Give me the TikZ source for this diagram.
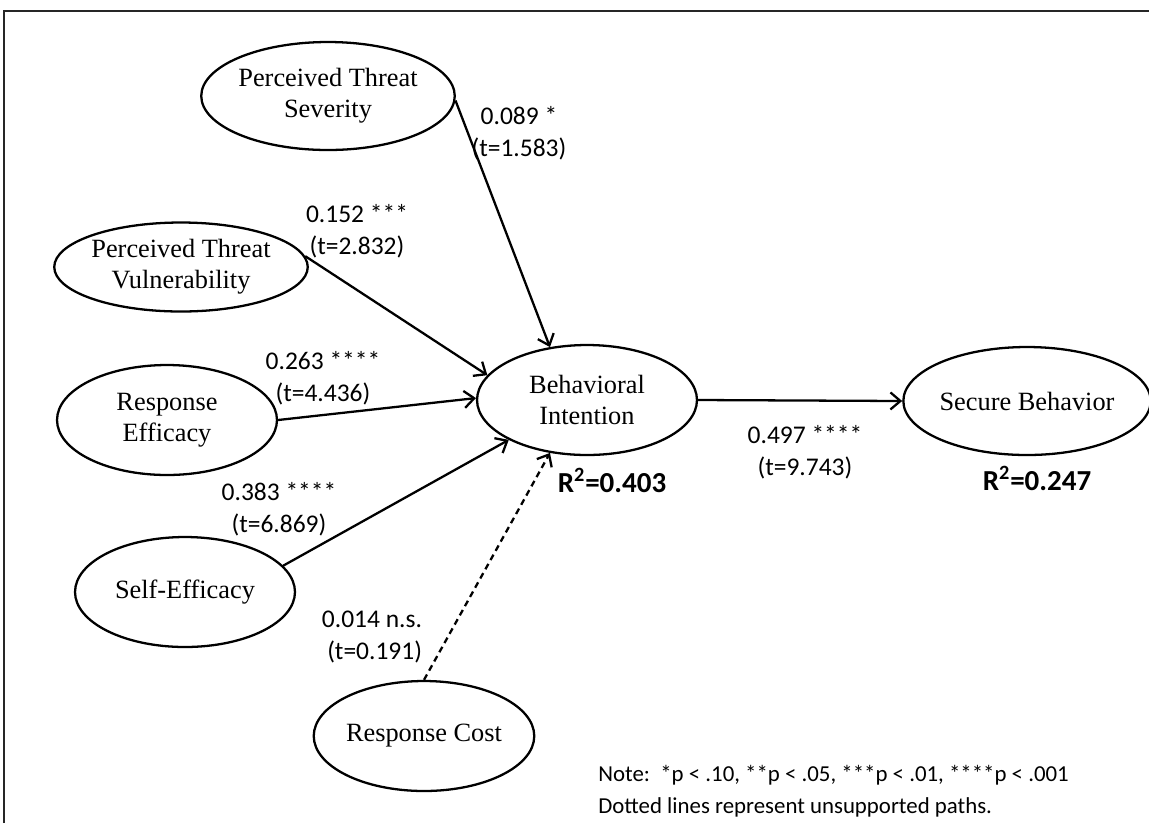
\documentclass[tikz,border=0pt]{standalone}
\usepackage{fontspec}
\setmainfont{Liberation Serif}
\newfontfamily\calibri{Carlito}
\usetikzlibrary{shapes.geometric,arrows.meta}

\begin{document}
\begin{tikzpicture}[
        x=0.02cm, y=-0.02cm,
        construct/.style={ellipse, draw, line width=1.3pt, inner sep=0pt, minimum width=4.4cm, minimum height=2.2cm, align=center, font=\fontsize{15}{17.5}\selectfont},
        coef/.style={align=center, inner sep=0pt, font=\calibri\fontsize{14.5}{18}\selectfont},
        rsq/.style={inner sep=0pt, font=\calibri\bfseries\fontsize{16.5}{20}\selectfont},
        arrow/.style={-{Straight Barb[length=2mm,width=3.4mm,line width=1.3pt]}, line width=1.3pt},
        dottedarrow/.style={arrow, dash pattern=on 3.5pt off 2.5pt}
    ]
        \useasboundingbox (0,0) rectangle (1149,823);
        % frame
        \draw[line width=1.2pt, black!85] (4,823) -- (4,11) -- (1149,11);

        \node[construct, minimum width=4.38cm, minimum height=2.16cm] (sev) at (328,96) {Perceived Threat\\Severity};
        \node[construct, minimum width=4.42cm, minimum height=1.78cm] (vul) at (181,267) {Perceived Threat\\Vulnerability};
        \node[construct] (reff) at (167,420) {Response\\Efficacy};
        \node[construct] (seff) at (185,592) {Self-Efficacy};
        \node[construct, minimum width=4.32cm] (cost) at (424,736) {Response Cost};
        \node[construct] (intent) at (587,400) {Behavioral\\Intention};
        \node[construct, minimum width=4.34cm, minimum height=2.16cm] (secure) at (1027,401) {Secure Behavior};

        \draw[arrow] (sev.-2) -- (intent.125);
        \draw[arrow] (vul.5) -- (intent.166);
        \draw[arrow] (reff.east) -- (intent.179);
        \draw[arrow] (seff.15) -- (intent.207);
        \draw[dottedarrow] (cost.north) -- (intent.235);
        \draw[arrow] (intent.east) -- (secure.west);

        \node[coef] (csev) at (519,133) {0.089 *\\(t=1.583)};
        \node[coef] (cvul) at (357,231) {0.152 ***\\(t=2.832)};
        \node[coef] (creff) at (323,378) {0.263 ****\\(t=4.436)};
        \node[coef] (cseff) at (279,509) {0.383 ****\\(t=6.869)};
        \node[coef, align=right] (ccost) at (372,637) {0.014 n.s.\\(t=0.191)};
        \node[coef] (cintent) at (805,452) {0.497 ****\\(t=9.743)};

        \node[rsq] (rintent) at (612,480) {R\textsuperscript{2}=0.403};
        \node[rsq] (rsecure) at (1037,478) {R\textsuperscript{2}=0.247};

        \node[anchor=west, align=left, inner sep=0pt, font=\calibri\fontsize{13}{18}\selectfont] (note) at (598,791) {Note:\ \ *p < .10, **p < .05, ***p < .01, ****p < .001\\Dotted lines represent unsupported paths.};
    \end{tikzpicture}
\end{document}
